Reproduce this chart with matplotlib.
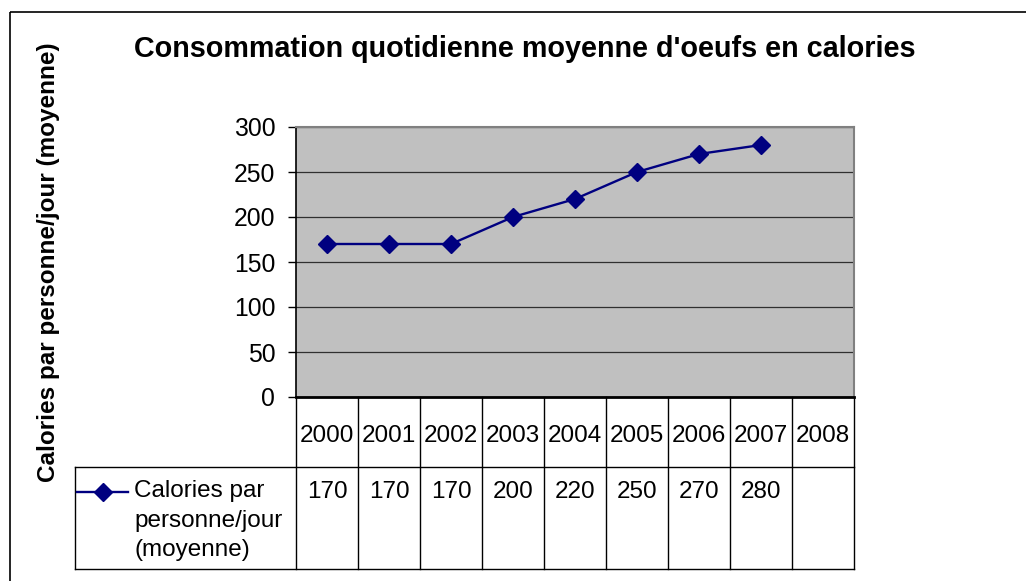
import matplotlib
matplotlib.use('Agg')
import matplotlib.pyplot as plt
from matplotlib.patches import Rectangle

plt.rcParams['font.family'] = ['Liberation Sans', 'DejaVu Sans']

# data
years = ['2000', '2001', '2002', '2003', '2004', '2005', '2006', '2007', '2008']
calories = [170, 170, 170, 200, 220, 250, 270, 280, None]
series_name = 'Calories par\npersonne/jour\n(moyenne)'
title = "Consommation quotidienne moyenne d'oeufs en calories"
y_label = 'Calories par personne/jour (moyenne)'
y_ticks = [0, 50, 100, 150, 200, 250, 300]

W, H = 1026, 581
navy = '#000080'

fig = plt.figure(figsize=(W / 100, H / 100), dpi=100)

# plot area in pixels
px_l, px_r, px_t, px_b = 296, 854, 127, 397
ax = fig.add_axes([px_l / W, 1 - px_b / H, (px_r - px_l) / W, (px_b - px_t) / H])
ax.set_facecolor('#c0c0c0')
xs = [i for i, v in enumerate(calories) if v is not None]
vals = [v for v in calories if v is not None]
ax.plot(xs, vals, color=navy, linewidth=1.7, marker='D', markersize=9, zorder=3)
ax.set_xlim(-0.5, len(years) - 0.5)
ax.set_ylim(0, 300)
ax.set_yticks(y_ticks)
ax.set_yticklabels([str(t) for t in y_ticks], fontsize=17.8)
ax.set_xticks([])
ax.yaxis.grid(True, color='#303030', linewidth=0.9)
ax.set_axisbelow(True)
ax.tick_params(axis='y', direction='out', length=6, width=1, pad=9)
for s in ['top', 'right']:
    ax.spines[s].set_color('#808080')
    ax.spines[s].set_linewidth(1.5)
ax.spines['left'].set_linewidth(1.2)
ax.spines['bottom'].set_linewidth(2)

# overlays for the title, border and data table
ov = fig.add_axes([0, 0, 1, 1], zorder=-1)
ov.set_xlim(0, W)
ov.set_ylim(H, 0)
ov.axis('off')
ov2 = fig.add_axes([0, 0, 1, 1], zorder=5)
ov2.set_xlim(0, W)
ov2.set_ylim(H, 0)
ov2.axis('off')
ov2.patch.set_alpha(0)

ov.add_patch(Rectangle((10, 12), W + 20, H + 20, fill=False, edgecolor='black', linewidth=1.2))
ov2.text(525, 49, title, ha='center', va='center', fontsize=20.7, fontweight='bold')
ov2.text(49, 262, y_label, ha='center', va='center', rotation=90, fontsize=17.5, fontweight='bold')

col_w = (px_r - px_l) / len(years)
row1_b, row2_b, leg_l = 467, 569, 75
lc = 'black'
for i in range(len(years) + 1):
    x = px_l + i * col_w
    ov2.plot([x, x], [px_b, row2_b], color=lc, linewidth=1)
ov2.plot([leg_l, px_r], [row1_b, row1_b], color=lc, linewidth=1)
ov2.plot([leg_l, px_r], [row2_b, row2_b], color=lc, linewidth=1)
ov2.plot([leg_l, leg_l], [row1_b, row2_b], color=lc, linewidth=1)

for i, (yr, v) in enumerate(zip(years, calories)):
    cx = px_l + (i + 0.5) * col_w
    ov2.text(cx, 436, yr, ha='center', va='center', fontsize=17.5)
    if v is not None:
        ov2.text(cx, 492, str(v), ha='center', va='center', fontsize=17.5)

ov2.plot([77, 128], [492, 492], color=navy, linewidth=1.7)
ov2.plot([103], [492], color=navy, marker='D', markersize=9)
ov2.text(134, 480, series_name, ha='left', va='top', fontsize=17.5, linespacing=1.45)

fig.savefig('out.png', dpi=100)
